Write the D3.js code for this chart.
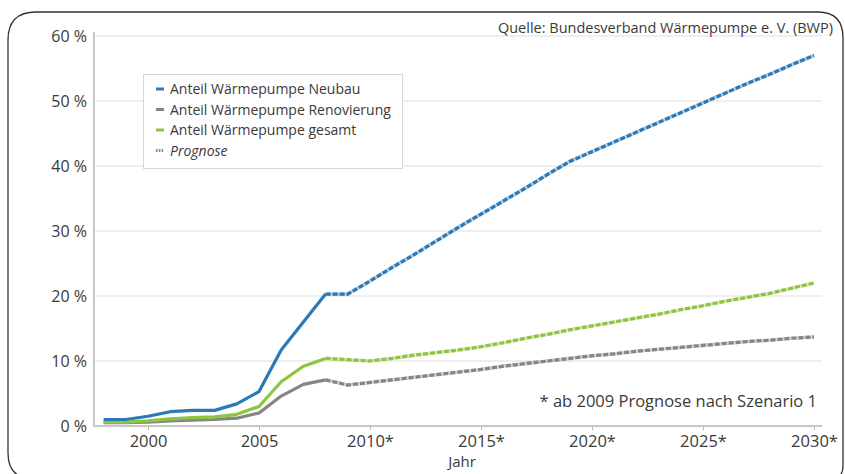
<!DOCTYPE html>
<html><head><meta charset="utf-8">
<script src="https://cdn.jsdelivr.net/npm/d3@7"></script>
<style>
html,body{margin:0;padding:0;background:#fff;}
svg{display:block;font-family:"Open Sans",sans-serif;}
</style></head>
<body>
<svg id="c" width="845" height="474"></svg>
<script>
const years = d3.range(1998, 2031);
const neubau = [1.0,1.0,1.5,2.2,2.4,2.4,3.4,5.3,11.7,16.0,20.3,20.3,22.3,24.4,26.4,28.5,30.6,32.6,34.6,36.6,38.7,40.7,42.2,43.7,45.2,46.7,48.2,49.7,51.2,52.7,54.1,55.6,57.0];
const renovierung = [0.5,0.5,0.6,0.8,0.9,1.0,1.2,2.0,4.6,6.4,7.1,6.3,6.7,7.1,7.5,7.9,8.3,8.7,9.2,9.6,10.0,10.4,10.8,11.1,11.5,11.8,12.1,12.4,12.7,13.0,13.2,13.5,13.7];
const gesamt = [0.6,0.6,0.8,1.1,1.3,1.4,1.8,3.0,6.8,9.2,10.4,10.2,10.0,10.4,10.9,11.3,11.7,12.2,12.8,13.5,14.1,14.8,15.4,16.0,16.6,17.2,17.9,18.5,19.2,19.8,20.4,21.2,22.0];
const forecastStart = 2008;
const yTicks = [0,10,20,30,40,50,60];
const xTicks = [2000,2005,2010,2015,2020,2025,2030];
const xTickLabels = ["2000","2005","2010*","2015*","2020*","2025*","2030*"];
const seriesNames = ["Anteil Wärmepumpe Neubau","Anteil Wärmepumpe Renovierung","Anteil Wärmepumpe gesamt"];
const prognoseLabel = "Prognose";
const sourceText = "Quelle: Bundesverband Wärmepumpe e. V. (BWP)";
const noteText = "* ab 2009 Prognose nach Szenario 1";
const xTitle = "Jahr";

const colors = ["#2b79b6","#858585","#8cc540"];
const svg = d3.select("#c");

// frame (bottom edge lies just below the visible area)
svg.append("path")
  .attr("d","M34,479 Q8,479 8,453 L8,40 Q8,12 36,12 L818,12 Q843,12 843,38 L843,466 Q843,479 830,479 Z")
  .attr("fill","none").attr("stroke","#333").attr("stroke-width",1.3);

const x = d3.scaleLinear().domain([1998,2030]).range([103.6,814]);
const y = d3.scaleLinear().domain([0,60]).range([426,36]);
const xLeft = 94, xRight = 822;

// gridlines
svg.append("g").selectAll("line").data(yTicks.filter(d=>d>0)).join("line")
  .attr("x1",xLeft).attr("x2",xRight).attr("y1",d=>y(d)).attr("y2",d=>y(d))
  .attr("stroke","#e8e8e8").attr("stroke-width",1.5);

// y axis
const yAxis = d3.axisLeft(y).tickValues(yTicks).tickSize(0).tickPadding(7).tickFormat(d=>d+" %");
const gy = svg.append("g").attr("transform",`translate(${xLeft},0)`).call(yAxis);
gy.select(".domain").remove();
gy.selectAll("text").attr("font-size",16).attr("fill","#3a3a3a").attr("font-family","Open Sans");
svg.append("line").attr("x1",xLeft).attr("x2",xLeft).attr("y1",32).attr("y2",427)
  .attr("stroke","#c8c8c8").attr("stroke-width",2);

// x axis
const xAxis = d3.axisBottom(x).tickValues(xTicks).tickSize(4).tickPadding(5)
  .tickFormat((d,i)=>xTickLabels[i]);
const gx = svg.append("g").attr("transform","translate(0,426)").call(xAxis);
gx.select(".domain").remove();
gx.selectAll(".tick line").attr("stroke","#bbb");
gx.selectAll("text").attr("font-size",16.5).attr("fill","#3a3a3a").attr("font-family","Open Sans");
svg.append("line").attr("x1",xLeft).attr("x2",xRight).attr("y1",426).attr("y2",426)
  .attr("stroke","#c8c8c8").attr("stroke-width",2);

svg.append("text").attr("x",462).attr("y",467).attr("text-anchor","middle")
  .attr("font-size",15).attr("fill","#3a3a3a").text(xTitle);

// lines
const all = [neubau, renovierung, gesamt];
const line = d3.line().x(d=>x(d[0])).y(d=>y(d[1]));
const order = [1,2,0];
order.forEach(si=>{
  const pts = years.map((yr,i)=>[yr, all[si][i]]);
  const solid = pts.filter(p=>p[0]<=forecastStart);
  const dashed = pts.filter(p=>p[0]>=forecastStart);
  svg.append("path").attr("d",line(solid)).attr("fill","none")
    .attr("stroke",colors[si]).attr("stroke-width",3.2).attr("stroke-linejoin","round");
  svg.append("path").attr("d",line(dashed)).attr("fill","none")
    .attr("stroke",colors[si]).attr("stroke-opacity",0.35).attr("stroke-width",3.6);
  svg.append("path").attr("d",line(dashed)).attr("fill","none")
    .attr("stroke",colors[si]).attr("stroke-width",3.2).attr("stroke-dasharray","5,2");
});

// legend
const lg = svg.append("g");
lg.append("rect").attr("x",143.5).attr("y",74.5).attr("width",259).attr("height",94)
  .attr("fill","#fff").attr("stroke","#d6d6d6").attr("stroke-width",1);
const legendItems = seriesNames.map((n,i)=>({name:n,color:colors[i],dash:false}))
  .concat([{name:prognoseLabel,color:"#888",dash:true}]);
legendItems.forEach((it,i)=>{
  const cy = 89 + i*20.5;
  lg.append("line").attr("x1",156).attr("x2",164).attr("y1",cy).attr("y2",cy)
    .attr("stroke",it.color).attr("stroke-width",3)
    .attr("stroke-dasharray",it.dash?"1.6,1.2":null);
  lg.append("text").attr("x",170).attr("y",cy+5).attr("font-size",14).attr("fill","#3a3a3a")
    .attr("font-style",it.dash?"italic":null).text(it.name);
});

svg.append("text").attr("x",833).attr("y",33).attr("text-anchor","end")
  .attr("font-size",14.5).attr("fill","#3a3a3a").text(sourceText);
svg.append("text").attr("x",817).attr("y",407).attr("text-anchor","end")
  .attr("font-size",16.5).attr("fill","#3a3a3a").text(noteText);
</script>
</body></html>
